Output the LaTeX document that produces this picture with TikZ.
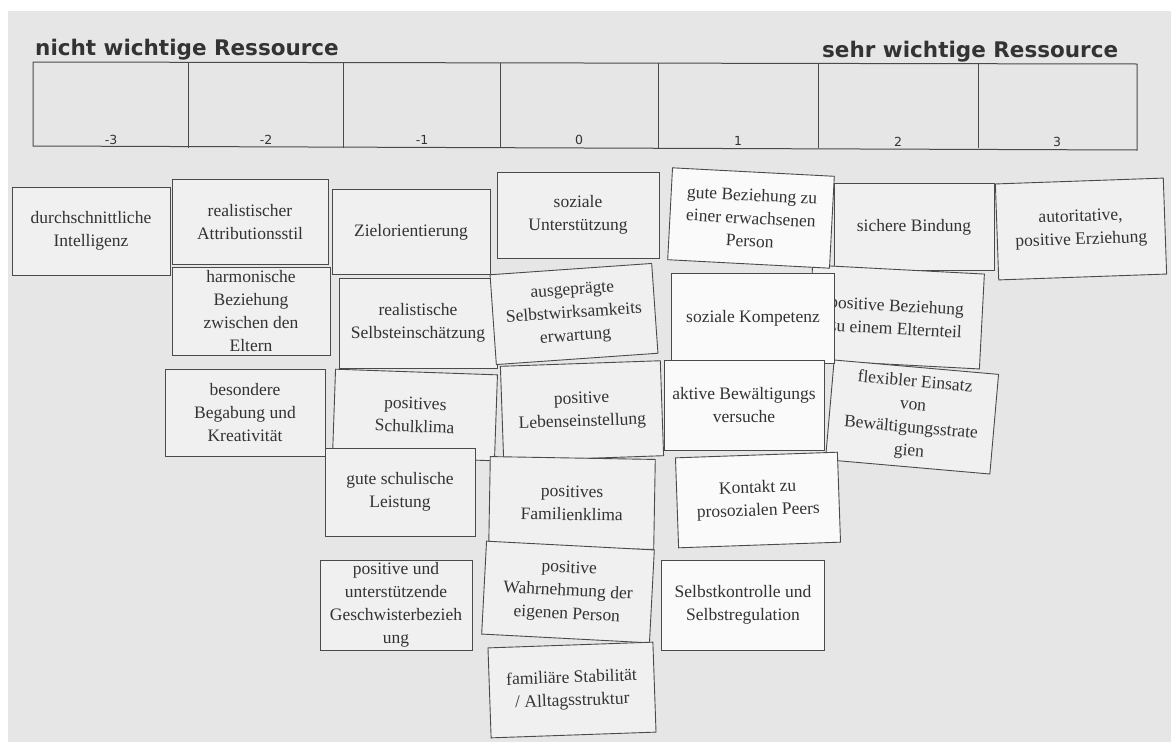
\documentclass[tikz,border=0pt]{standalone}
\usepackage{fontspec}
\newfontfamily\cardfont{Liberation Serif}
\newfontfamily\headfont{DejaVu Sans}
\definecolor{paper}{HTML}{E6E6E6}
\definecolor{cardfill}{HTML}{F0F0F0}
\definecolor{cardwhite}{HTML}{FAFAFA}
\definecolor{ink}{HTML}{333333}
\definecolor{edge}{HTML}{4A4A4A}
\tikzset{
  card/.style={draw=edge, line width=0.9pt, fill=cardfill, inner sep=1pt,
    minimum width=158pt, minimum height=88pt, align=center, text=ink,
    font=\cardfont\fontsize{17.5}{23}\selectfont},
  wcard/.style={card, fill=cardwhite},
  head/.style={font=\headfont\bfseries\fontsize{21.5}{24}\selectfont, text=ink, inner sep=0pt, anchor=base west},
  num/.style={font=\headfont\fontsize{12.5}{14}\selectfont, text=ink, inner sep=0pt, anchor=base},
  grid/.style={draw=edge, line width=1pt}
}
\begin{document}
\begin{tikzpicture}[x=1pt,y=1pt]
\useasboundingbox (0,0) rectangle (1171,-742);
\fill[white] (0,0) rectangle (1171,-742);
\fill[paper] (8,-11) rectangle (1171,-742);
% scale table
\node[head] (hl) at (35,-55) {nicht wichtige Ressource};
\node[head] (hr) at (822,-57) {sehr wichtige Ressource};
\draw[grid] (33,-62) -- (1137,-64) -- (1137,-150) -- (33,-146) -- cycle;
\foreach \x in {188,343,500,658,818,978}{
  \draw[grid] (\x,-62.5) -- (\x,-148);
}
\node[num] (n1) at (111,-144) {-3};
\node[num] (n2) at (266,-144) {-2};
\node[num] (n3) at (422,-144) {-1};
\node[num] (n4) at (579,-144) {0};
\node[num] (n5) at (738,-145) {1};
\node[num] (n6) at (898,-146) {2};
\node[num] (n7) at (1057,-146) {3};
% cards column -3 / -2
\node[card] (intel) at (91,-231) {durchschnittliche\\Intelligenz};
\node[card, minimum width=156pt, minimum height=85pt] (attrib) at (250,-222) {realistischer\\Attributionsstil};
\node[card] (harmon) at (251,-311) {harmonische\\Beziehung\\zwischen den\\Eltern};
\node[card, minimum width=160pt, minimum height=87pt] (begab) at (245,-413) {besondere\\Begabung und\\Kreativität};
% column -1
\node[card, minimum height=85pt] (ziel) at (411,-232) {Zielorientierung};
\node[card, minimum height=90pt] (selbstein) at (418,-323) {realistische\\Selbsteinschätzung};
\node[card, minimum width=162pt, minimum height=86pt, rotate=-2] (schulk) at (415,-415) {positives\\Schulklima};
\node[card, minimum width=150pt] (leist) at (400,-492) {gute schulische\\Leistung};
\node[card, minimum width=152pt, minimum height=90pt] (geschw) at (396,-605) {positive und\\unterstützende\\Geschwisterbezieh\\ung};
% column 0
\node[card, minimum width=162pt, minimum height=86pt] (sozunt) at (578,-215) {soziale\\Unterstützung};
\node[card, minimum width=162pt, minimum height=90pt, rotate=4] (selbstw) at (574,-314) {ausgeprägte\\Selbstwirksamkeits\\erwartung};
\node[card, minimum width=160pt, minimum height=95pt, rotate=2] (lebens) at (582,-411) {positive\\Lebenseinstellung};
\node[card, minimum width=165pt, minimum height=90pt, rotate=-1] (famk) at (572,-503) {positives\\Familienklima};
\node[card, minimum width=168pt, minimum height=93pt, rotate=-3] (wahrn) at (568,-592) {positive\\Wahrnehmung der\\eigenen Person};
\node[card, minimum width=165pt, minimum height=90pt, rotate=2] (stabil) at (572,-690) {familiäre Stabilität\\/ Alltagsstruktur};
% column 2 (under column 1)
\node[card, minimum width=160pt, minimum height=87pt] (sicher) at (914,-227) {sichere Bindung};
\node[card, minimum width=172pt, minimum height=95pt, rotate=-3] (eltern) at (896,-317) {positive Beziehung\\zu einem Elternteil};
\node[card, minimum width=165pt, minimum height=100pt, rotate=-5] (flex) at (912,-417) {flexibler Einsatz\\von\\Bewältigungsstrate\\gien};
% column 3
\node[card, minimum width=168pt, minimum height=96pt, rotate=2] (autor) at (1081,-229) {autoritative,\\positive Erziehung};
% column 1
\node[wcard, minimum width=162pt, minimum height=92pt, rotate=-3] (gutebez) at (751,-218) {gute Beziehung zu\\einer erwachsenen\\Person};
\node[wcard, minimum width=163pt, minimum height=90pt] (sozk) at (753,-318) {soziale Kompetenz};
\node[wcard, minimum width=160pt, minimum height=90pt] (aktiv) at (744,-405) {aktive Bewältigungs\\versuche};
\node[wcard, minimum width=162pt, minimum height=90pt, rotate=2] (kontakt) at (758,-500) {Kontakt zu\\prosozialen Peers};
\node[wcard, minimum width=163pt, minimum height=90pt] (selbstk) at (743,-605) {Selbstkontrolle und\\Selbstregulation};
\end{tikzpicture}
\end{document}
